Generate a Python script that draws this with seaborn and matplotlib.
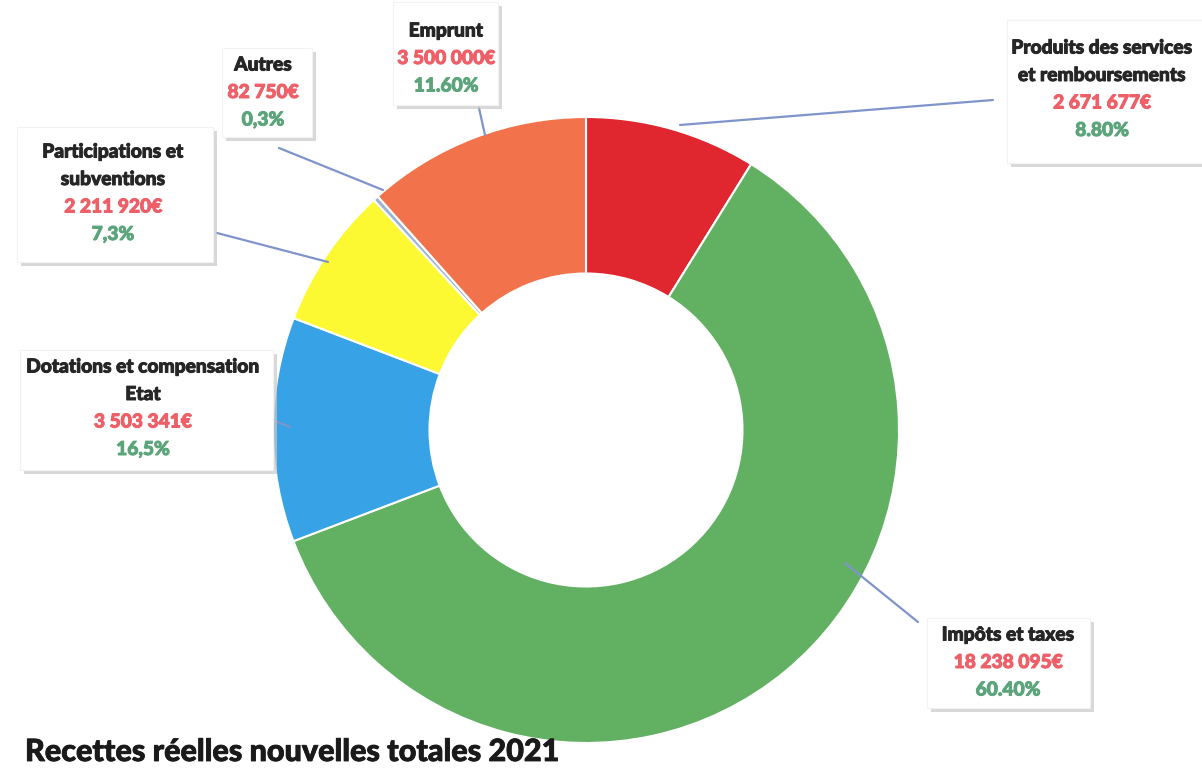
import numpy as np
import matplotlib
matplotlib.use("Agg")
import matplotlib.pyplot as plt
import matplotlib.patheffects as pe
from matplotlib.patches import Rectangle
import seaborn as sns

# Données
categories = ["Produits des services\net remboursements", "Impôts et taxes",
              "Dotations et compensation\nEtat", "Participations et\nsubventions",
              "Autres", "Emprunt"]
montants = [2671677, 18238095, 3503341, 2211920, 82750, 3500000]
pourcentages = ["8.80%", "60.40%", "16,5%", "7,3%", "0,3%", "11.60%"]
couleurs = ["#E0262E", "#62B163", "#38A2E6", "#FCF932", "#9FB3D0", "#F2724C"]
titre = "Recettes réelles nouvelles totales 2021"

W, H = 1202, 773

def Y(y):
    # coordonnées image (y vers le bas) -> axes
    return H - y

sns.set_theme(style="white")
plt.rcParams["font.family"] = ["Lato", "DejaVu Sans"]

fig = plt.figure(figsize=(W / 100, H / 100), dpi=100)
ax = fig.add_axes([0, 0, 1, 1])

r = 313
ax.pie(montants, colors=couleurs, startangle=90, counterclock=False,
       radius=r, center=(586, Y(430)),
       wedgeprops=dict(width=r * 0.5, edgecolor="white", linewidth=1.5))
ax.set_xlim(0, W)
ax.set_ylim(0, H)
ax.set_aspect("equal")
ax.axis("off")

# Boîtes d'étiquettes : (gauche, haut, droite, bas), centre x, y première ligne
boites = [
    (1007, 20, 1210, 163),
    (927, 618, 1090, 708),
    (20, 350, 273, 470),
    (17, 127, 213, 262),
    (222, 48, 312, 137),
    (393, 2, 498, 105),
]
centres = [(1102, 48), (1008, 635), (143, 367), (113, 152), (263, 65), (446, 31)]
liens = [
    ((993, 100), (680, 125)),
    ((918, 622), (845, 563)),
    ((253, 412), (290, 427)),
    ((217, 233), (328, 262)),
    ((279, 148), (383, 190)),
    ((479, 108), (485, 135)),
]

for (p0, p1) in liens:
    ax.plot([p0[0], p1[0]], [Y(p0[1]), Y(p1[1])], color="#7F94CB", lw=1.6, zorder=3)

for i, cat in enumerate(categories):
    g, h, d, b = boites[i]
    ax.add_patch(Rectangle((g + 4, Y(b) - 4), d - g, b - h, facecolor="#C8C8C8",
                           edgecolor="none", alpha=0.7, zorder=4))
    ax.add_patch(Rectangle((g, Y(b)), d - g, b - h, facecolor="white",
                           edgecolor="#F2F2F2", lw=0.8, zorder=5))
    cx, y0 = centres[i]
    lignes = cat.split("\n")
    montant_txt = f"{montants[i]:,}".replace(",", " ") + "€"
    contenu = [(l, "#262626") for l in lignes] + [(montant_txt, "#EE5F68"),
                                                  (pourcentages[i], "#5CA57B")]
    for k, (txt, c) in enumerate(contenu):
        ax.text(cx, Y(y0 + k * 27.5), txt, ha="center", va="center",
                fontsize=13.8, fontweight="black", color=c, zorder=6,
                path_effects=[pe.withStroke(linewidth=0.7, foreground=c)])

ax.text(25, Y(752), titre, ha="left", va="center", fontsize=22,
        fontweight="black", color="#1A1A1A",
        path_effects=[pe.withStroke(linewidth=0.6, foreground="#1A1A1A")])

fig.savefig("out.png", dpi=100)
